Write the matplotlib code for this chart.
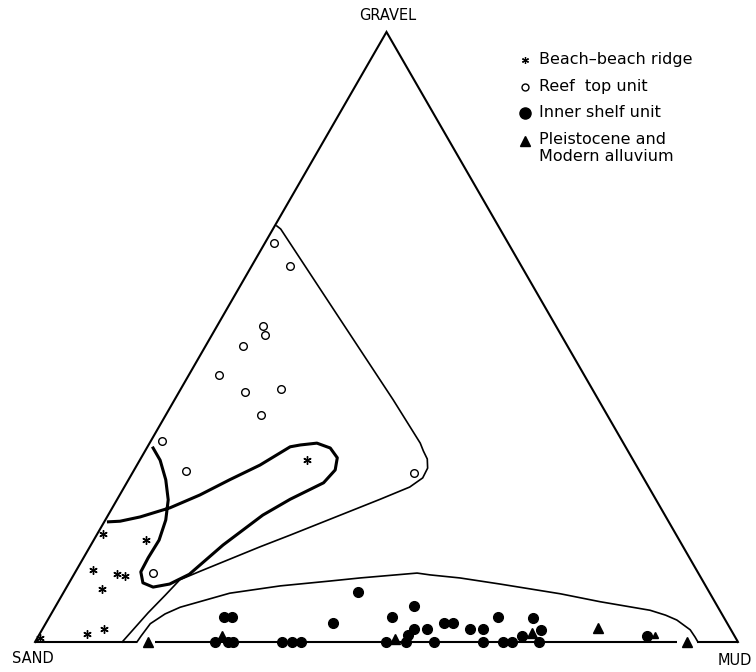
from matplotlib import pyplot as plt
import numpy as np

# sediment composition of each sample in percent: gravel and mud (sand = rest)
beach_gravel = [17.7, 16.7, 11.8, 11.1, 10.8, 8.7, 1.3, 2.1, 0.7, 29.8]
beach_mud = [0.8, 7.4, 2.4, 6.1, 7.4, 5.2, 6.8, 8.7, 0.4, 23.8]

reef_gravel = [65.4, 61.6, 51.8, 50.3, 48.5, 43.8, 41.0, 41.5, 37.2, 33.0, 28.0, 27.7, 11.3]
reef_mud = [1.3, 5.5, 6.5, 7.5, 5.4, 4.3, 9.4, 14.3, 13.5, 1.6, 7.5, 40.0, 11.1]

shelf_gravel = [4.1, 4.1, 0, 0, 0, 0, 0, 0, 3.1, 8.2, 4.1, 5.9, 0, 0, 1.1, 2.1, 2.1, 0,
                3.1, 3.1, 2.1, 2.1, 4.1, 0, 0, 0, 1.0, 3.9, 2.0, 0, 1.0]
shelf_mud = [24.9, 26.0, 25.6, 27.5, 28.2, 35.1, 36.6, 37.8, 40.8, 41.8, 48.7, 51.0, 49.9,
             52.8, 52.5, 52.9, 54.7, 56.8, 56.6, 57.9, 60.8, 62.7, 63.8, 63.7, 66.6, 67.9,
             68.8, 68.9, 71.0, 71.7, 86.6]

alluv_gravel = [0, 1.0, 0.5, 1.5, 2.3, 0]
alluv_mud = [16.1, 26.1, 51.0, 69.9, 78.9, 92.7]
alluv_small_gravel = [1.1]
alluv_small_mud = [87.6]

# field boundaries drawn by hand on the original diagram
reef_line_gravel = [68.2, 67.7, 53.6, 39.7, 32.6, 31.3, 30.0, 28.5, 26.9, 25.4, 23.4, 17.5,
                    15.6, 11.6, 10.2, 7.7, 4.8, 0]
reef_line_mud = [0.3, 1.1, 16.2, 31.1, 38.5, 39.6, 40.8, 41.6, 41.7, 40.6, 37.4, 27.5,
                 24.2, 17.7, 15.5, 14.7, 13.7, 12.4]

loop_gravel = [31.8, 29.8, 26.6, 23.3, 20.0, 16.7, 13.8, 11.5, 9.7, 9.0, 9.5, 11.1, 15.9,
               20.8, 23.4, 26.1, 28.2, 30.2, 31.8, 32.6, 32.3, 32.0, 29.0, 26.6, 24.1, 22.0,
               20.5, 19.8, 19.7]
loop_mud = [0.9, 2.9, 5.3, 7.3, 8.6, 9.3, 9.2, 9.3, 10.5, 12.3, 14.4, 16.4, 18.8, 22.0,
            24.6, 28.0, 28.6, 27.9, 26.1, 23.8, 21.6, 20.3, 17.5, 14.4, 11.4, 8.2, 4.7,
            2.2, 0.6]

shelf_line_gravel = [0, 1.0, 3.0, 4.6, 5.7, 8.0, 9.2, 10.0, 10.5, 11.3, 11.0, 10.5, 9.5,
                     7.9, 6.6, 5.2, 4.4, 3.6, 2.0, 0.8, 0]
shelf_line_mud = [14.5, 14.6, 14.9, 16.2, 17.8, 23.7, 30.3, 37.0, 41.0, 48.7, 50.7, 55.2,
                  61.4, 70.8, 77.1, 84.9, 87.5, 89.5, 92.2, 93.5, 94.3]

# the sand-mud side is broken where the boundaries meet it
base_segments = [(0, 14.5), (17.1, 91.3), (94.2, 100)]

legend_labels = ['Beach\u2013beach ridge', 'Reef  top unit', 'Inner shelf unit',
                 'Pleistocene and\nModern alluvium']


def tern(gravel, mud):
    # ternary -> cartesian, sand at (0,0), mud at (100,0), gravel on top
    g = np.asarray(gravel, dtype=float)
    m = np.asarray(mud, dtype=float)
    return m + g / 2, g * np.sqrt(3) / 2


fig = plt.figure(figsize=(7.56, 6.72), dpi=100)
ax = fig.add_axes([0, 0, 1, 1])
ax.set_xlim(-35 / 7.03, 721 / 7.03)
ax.set_ylim(-30 / 7.044, 642 / 7.044)
ax.axis('off')

# triangle sides
x, y = tern([0, 100, 0], [0, 0, 100])
ax.plot(x, y, color='black', lw=1.5, solid_joinstyle='miter')
for a, b in base_segments:
    x, y = tern([0, 0], [a, b])
    ax.plot(x, y, color='black', lw=1.5, solid_capstyle='butt')

x, y = tern(reef_line_gravel, reef_line_mud)
ax.plot(x, y, color='black', lw=1.2, solid_joinstyle='round')
x, y = tern(loop_gravel, loop_mud)
ax.plot(x, y, color='black', lw=2.2, solid_joinstyle='round')
x, y = tern(shelf_line_gravel, shelf_line_mud)
ax.plot(x, y, color='black', lw=1.2, solid_joinstyle='round')

# samples
ast = (6, 2, 0)
x, y = tern(beach_gravel, beach_mud)
ax.plot(x, y, ls='none', marker=ast, ms=6, mew=1.0, color='black')
x, y = tern(reef_gravel, reef_mud)
ax.plot(x, y, ls='none', marker='o', ms=5.5, mew=1.0, mfc='white', mec='black')
x, y = tern(shelf_gravel, shelf_mud)
ax.plot(x, y, ls='none', marker='o', ms=7, color='black')
x, y = tern(alluv_gravel, alluv_mud)
ax.plot(x, y, ls='none', marker='^', ms=7.5, color='black')
x, y = tern(alluv_small_gravel, alluv_small_mud)
ax.plot(x, y, ls='none', marker='^', ms=4.5, color='black')

# corner names
ax.text(50.2, 88.9, 'GRAVEL', ha='center', va='center', fontsize=10.5)
ax.text(-0.3, -2.3, 'SAND', ha='center', va='center', fontsize=10.5)
ax.text(99.5, -2.6, 'MUD', ha='center', va='center', fontsize=10.5)

# legend drawn by hand, like the original
tr = ax.transAxes
mx, tx = 0.694, 0.713
rows = [0.911, 0.871, 0.832, 0.790]
ax.plot([mx], [rows[0]], transform=tr, marker=ast, ms=5, mew=0.9, color='black')
ax.plot([mx], [rows[1]], transform=tr, marker='o', ms=5, mew=1.0, mfc='white', mec='black')
ax.plot([mx], [rows[2]], transform=tr, marker='o', ms=8, color='black')
ax.plot([mx], [rows[3]], transform=tr, marker='^', ms=7, color='black')
for r, lab in zip(rows, legend_labels):
    if '\n' in lab:
        ax.text(tx, r + 0.013, lab, transform=tr, ha='left', va='top',
                fontsize=11.5, linespacing=1.1)
    else:
        ax.text(tx, r, lab, transform=tr, ha='left', va='center', fontsize=11.5)

fig.savefig('out.png', dpi=100)
